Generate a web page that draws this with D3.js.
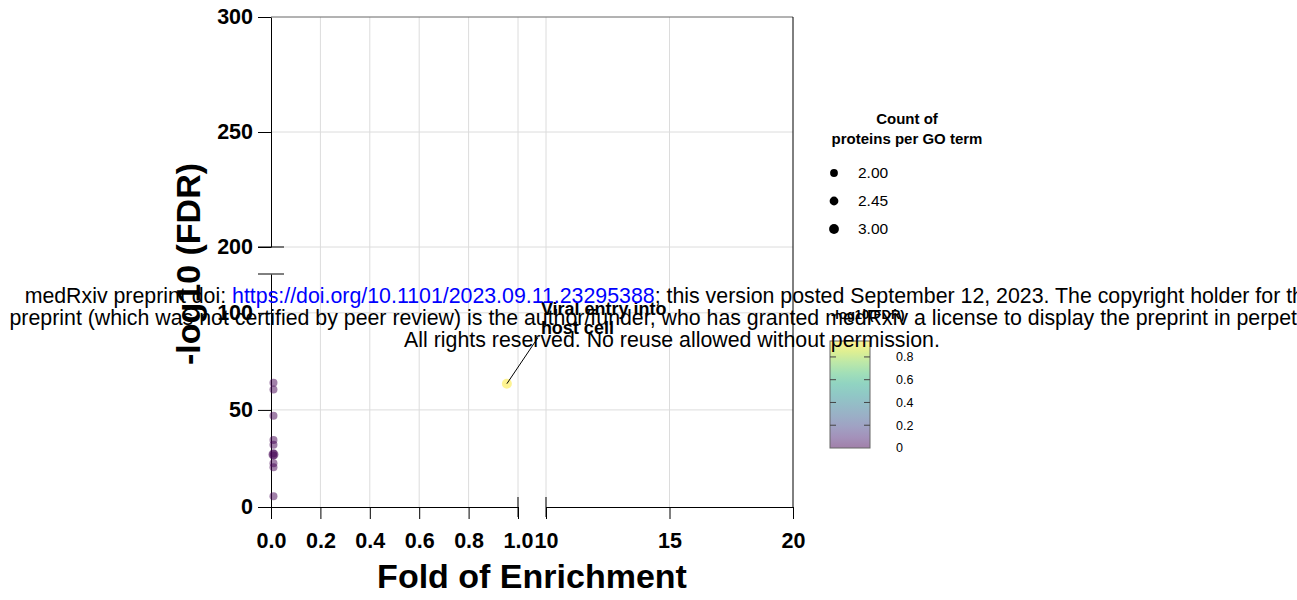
<!DOCTYPE html>
<html lang="en">
<head>
<meta charset="UTF-8">
<style>
  body { margin: 0; background: #fff; }
  svg { font-family: "Liberation Sans", Arial, sans-serif; }
  .tick text { font-weight: bold; font-size: 21.5px; fill: #000; }
</style>
</head>
<body>
<svg width="1297" height="600"></svg>
<script src="https://d3js.org/d3.v7.min.js"></script>
<script>

// data
var fold    = [0.01, 0.01, 0.01, 0.01, 0.01, 0.01, 0.01, 0.01, 0.01, 0.01, 0.01, 0.955];
var negLogFDR = [64, 60.5, 47, 34.5, 32, 27.5, 27, 26.5, 22.5, 20.5, 5.5, 63.5];
var counts  = [2, 2, 2, 2, 2, 2, 3, 2, 2, 2, 2, 3];
var colorVal = [0, 0, 0, 0, 0, 0, 0, 0, 0, 0, 0, 0.94];
var labels  = ["", "", "", "", "", "", "", "", "", "", "", "Viral entry into|host cell"];

var xTicksLow  = [0, 0.2, 0.4, 0.6, 0.8, 1.0];
var xTicksHigh = [10, 15, 20];
var yTicksLow  = [0, 50, 100];
var yTicksHigh = [200, 250, 300];
var sizeLegend = [2.00, 2.45, 3.00];
var colorTicks = [0, 0.2, 0.4, 0.6, 0.8];

var svg = d3.select("svg");

// broken axes: two scales per axis
var xLow  = d3.scaleLinear().domain([0, 1]).range([271, 518]);
var xHigh = d3.scaleLinear().domain([10, 20]).range([546, 793]);
var yLow  = d3.scaleLinear().domain([0, 120]).range([507, 274]);
var yHigh = d3.scaleLinear().domain([200, 300]).range([247, 17]);

var r = d3.scaleSqrt().domain([2, 3]).range([4, 5]);
var colorMax = 0.94;
var color = function(v) { return d3.interpolateViridis(v / colorMax); };

var x0 = xLow(0), x1 = xHigh(20), yTop = yHigh(300), yBot = yLow(0);

// gridlines
var grid = svg.append("g").attr("stroke", "#dcdcdc").attr("stroke-width", 1);
xTicksLow.slice(1).forEach(function(d) {
  grid.append("line").attr("x1", xLow(d)).attr("x2", xLow(d)).attr("y1", yTop).attr("y2", yBot);
});
xTicksHigh.slice(0, 2).forEach(function(d) {
  grid.append("line").attr("x1", xHigh(d)).attr("x2", xHigh(d)).attr("y1", yTop).attr("y2", yBot);
});
yTicksLow.slice(1).forEach(function(d) {
  grid.append("line").attr("x1", x0).attr("x2", x1).attr("y1", yLow(d)).attr("y2", yLow(d));
});
yTicksHigh.slice(0, 2).forEach(function(d) {
  grid.append("line").attr("x1", x0).attr("x2", x1).attr("y1", yHigh(d)).attr("y2", yHigh(d));
});

// top and right border
svg.append("line").attr("x1", x0).attr("x2", x1).attr("y1", yTop).attr("y2", yTop)
  .attr("stroke", "#666");
svg.append("line").attr("x1", x1).attr("x2", x1).attr("y1", yTop).attr("y2", yBot)
  .attr("stroke", "#000");

// axes
function styleAxis(g) {
  g.selectAll(".domain").attr("stroke", "#000");
  g.selectAll(".tick line").attr("stroke", "#000");
}
svg.append("g").attr("transform", "translate(0," + yBot + ")")
  .call(d3.axisBottom(xLow).tickValues(xTicksLow).tickFormat(d3.format(".1f"))
    .tickSize(12).tickSizeOuter(0).tickPadding(14))
  .call(styleAxis);
svg.append("g").attr("transform", "translate(0," + yBot + ")")
  .call(d3.axisBottom(xHigh).tickValues(xTicksHigh).tickFormat(d3.format("d"))
    .tickSize(12).tickSizeOuter(0).tickPadding(14))
  .call(styleAxis);
svg.append("g").attr("transform", "translate(" + x0 + ",0)")
  .call(d3.axisLeft(yLow).tickValues(yTicksLow).tickSize(13).tickSizeOuter(0).tickPadding(5))
  .call(styleAxis);
svg.append("g").attr("transform", "translate(" + x0 + ",0)")
  .call(d3.axisLeft(yHigh).tickValues(yTicksHigh).tickSize(13).tickSizeOuter(0).tickPadding(5))
  .call(styleAxis);

// break marks
var brk = svg.append("g").attr("stroke", "#000");
[xLow(1), xHigh(10)].forEach(function(px) {
  brk.append("line").attr("x1", px).attr("x2", px).attr("y1", yBot - 10).attr("y2", yBot + 10);
});
[yHigh(200), yLow(120)].forEach(function(py) {
  brk.append("line").attr("x1", x0 - 13).attr("x2", x0 + 13).attr("y1", py).attr("y2", py);
});

// points
var pts = fold.map(function(f, i) {
  return {
    x: f <= 1 ? xLow(f) : xHigh(f),
    y: negLogFDR[i] <= 120 ? yLow(negLogFDR[i]) : yHigh(negLogFDR[i]),
    r: r(counts[i]), c: color(colorVal[i]), label: labels[i]
  };
});
svg.append("g").selectAll("circle").data(pts).enter().append("circle")
  .attr("cx", function(d) { return d.x; })
  .attr("cy", function(d) { return d.y; })
  .attr("r", function(d) { return d.r; })
  .attr("fill", function(d) { return d.c; })
  .attr("fill-opacity", 0.5);

// label with leader line
pts.filter(function(d) { return d.label; }).forEach(function(d) {
  var lx = d.x + 34, ly = d.y - 69;
  svg.append("line").attr("x1", d.x).attr("y1", d.y).attr("x2", d.x + 31).attr("y2", d.y - 46)
    .attr("stroke", "#000").attr("stroke-width", 1);
  var t = svg.append("text").attr("x", lx).attr("y", ly)
    .attr("font-size", 18).attr("font-weight", "bold");
  d.label.split("|").forEach(function(s, i) {
    t.append("tspan").attr("x", lx).attr("dy", i ? 19 : 0).text(s);
  });
});

// axis titles
svg.append("text").attr("x", 532).attr("y", 588).attr("text-anchor", "middle")
  .attr("font-size", 34).attr("font-weight", "bold").text("Fold of Enrichment");
svg.append("text").attr("transform", "translate(200,264) rotate(-90)").attr("text-anchor", "middle")
  .attr("font-size", 34).attr("font-weight", "bold").text("-log10 (FDR)");

// size legend
var sl = svg.append("g");
sl.append("text").attr("x", 907).attr("y", 124).attr("text-anchor", "middle")
  .attr("font-size", 15).attr("font-weight", "bold").text("Count of");
sl.append("text").attr("x", 907).attr("y", 144).attr("text-anchor", "middle")
  .attr("font-size", 15).attr("font-weight", "bold").text("proteins per GO term");
sizeLegend.forEach(function(v, i) {
  var cy = 173 + i * 28;
  sl.append("circle").attr("cx", 834).attr("cy", cy).attr("r", r(v) - 0.1).attr("fill", "#000");
  sl.append("text").attr("x", 858).attr("y", cy).attr("dy", "0.35em")
    .attr("font-size", 15.5).text(d3.format(".2f")(v));
});

// colour bar legend
var cb = { x: 830, w: 40 };
var cScale = d3.scaleLinear().domain([0, colorMax]).range([448, 341]);
var defs = svg.append("defs");
var grad = defs.append("linearGradient").attr("id", "cgrad")
  .attr("x1", 0).attr("y1", 1).attr("x2", 0).attr("y2", 0);
d3.range(0, 1.0001, 0.1).forEach(function(t) {
  grad.append("stop").attr("offset", t).attr("stop-color", d3.interpolateViridis(t))
    .attr("stop-opacity", 0.5);
});
svg.append("text").attr("x", 831).attr("y", 319).attr("font-size", 13)
  .attr("font-weight", "bold").text("-log10(FDR)");
svg.append("rect").attr("x", cb.x).attr("y", cScale(colorMax)).attr("width", cb.w)
  .attr("height", cScale(0) - cScale(colorMax)).attr("fill", "url(#cgrad)")
  .attr("stroke", "#666").attr("stroke-width", 1);
colorTicks.forEach(function(v) {
  var py = cScale(v);
  if (v > 0) {
    svg.append("line").attr("x1", cb.x).attr("x2", cb.x + 6).attr("y1", py).attr("y2", py).attr("stroke", "#444");
    svg.append("line").attr("x1", cb.x + cb.w - 6).attr("x2", cb.x + cb.w).attr("y1", py).attr("y2", py).attr("stroke", "#444");
  }
  svg.append("text").attr("x", 896).attr("y", py).attr("dy", "0.35em").attr("font-size", 12.5)
    .text(v === 0 ? "0" : d3.format(".1f")(v));
});

// medRxiv overlay
var wm = svg.append("text").attr("text-anchor", "middle").attr("font-size", 21.33).attr("fill", "#000");
var l1 = wm.append("tspan").attr("x", 672).attr("y", 303);
l1.append("tspan").text("medRxiv preprint doi: ");
l1.append("tspan").attr("fill", "#0000ff").text("https://doi.org/10.1101/2023.09.11.23295388");
l1.append("tspan").text("; this version posted September 12, 2023. The copyright holder for this");
wm.append("tspan").attr("x", 672).attr("y", 325)
  .text("preprint (which was not certified by peer review) is the author/funder, who has granted medRxiv a license to display the preprint in perpetuity.");
wm.append("tspan").attr("x", 672).attr("y", 347)
  .text("All rights reserved. No reuse allowed without permission.");

</script>
</body>
</html>
